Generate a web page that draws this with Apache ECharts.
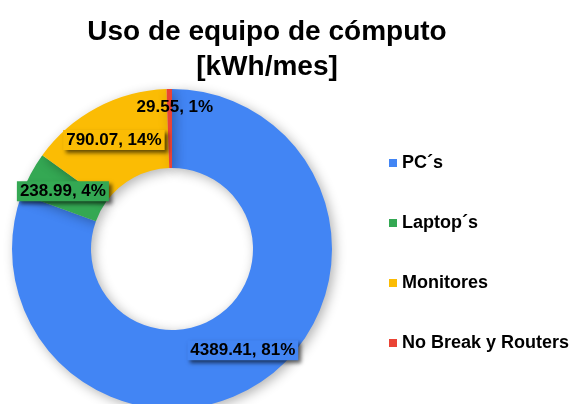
<!DOCTYPE html>
<html>
<head>
<meta charset="utf-8">
<script src="https://cdn.jsdelivr.net/npm/echarts@6/dist/echarts.min.js"></script>
<style>
  html, body { margin: 0; padding: 0; background: #fff; }
  #main { width: 582px; height: 404px; }
</style>
</head>
<body>
<div id="main"></div>
<script>
// datos del gráfico
var categories = ['PC´s', 'Laptop´s', 'Monitores', 'No Break y Routers'];
var values = [4389.41, 238.99, 790.07, 29.55];
var colors = ['#4285f4', '#34a853', '#fbbc04', '#ea4335']; // azul verde amarillo rojo

var myChart = echarts.init(document.getElementById('main'));

var labelBg = [colors[0], colors[1], colors[2], 'transparent'];
var seriesData = categories.map(function (name, i) {
    var item = { name: name, value: values[i] };
    item.label = {
        backgroundColor: labelBg[i],
        shadowColor: 'rgba(0,0,0,0.6)',
        shadowBlur: 4,
        shadowOffsetX: 3,
        shadowOffsetY: 3
    };
    if (i === 3) {
        item.label.offset = [5, -18]; // etiqueta pequeña arriba
    }
    return item;
});

var option = {
    color: colors,
    title: {
        text: 'Uso de equipo de cómputo\n[kWh/mes]',
        left: 262,
        top: 10,
        textAlign: 'center',
        textStyle: {
            fontFamily: 'Liberation Sans',
            fontWeight: 'bold',
            fontSize: 28,
            lineHeight: 35,
            color: '#000'
        }
    },
    legend: {
        orient: 'vertical',
        left: 384,
        top: 149,
        icon: 'rect',
        itemWidth: 8,
        itemHeight: 8,
        itemGap: 42,
        data: categories,
        textStyle: {
            fontFamily: 'Liberation Sans',
            fontWeight: 'bold',
            fontSize: 18,
            lineHeight: 18,
            color: '#000'
        }
    },
    series: [{
        type: 'pie',
        center: [172, 249],
        radius: [81, 160],
        startAngle: 90,
        clockwise: true,
        percentPrecision: 0,
        avoidLabelOverlap: false,
        itemStyle: {
            shadowColor: 'rgba(0,0,0,0.3)',
            shadowBlur: 12,
            shadowOffsetX: 3,
            shadowOffsetY: 3
        },
        label: {
            show: true,
            position: 'inside',
            formatter: function (p) {
                return p.value + ', ' + p.percent + '%';
            },
            fontFamily: 'Liberation Sans',
            fontWeight: 'bold',
            fontSize: 17,
            color: '#000',
            padding: [2, 3, 1, 3]
        },
        labelLine: { show: false },
        emphasis: { disabled: true },
        data: seriesData
    }]
};
myChart.setOption(option);
</script>
</body>
</html>
